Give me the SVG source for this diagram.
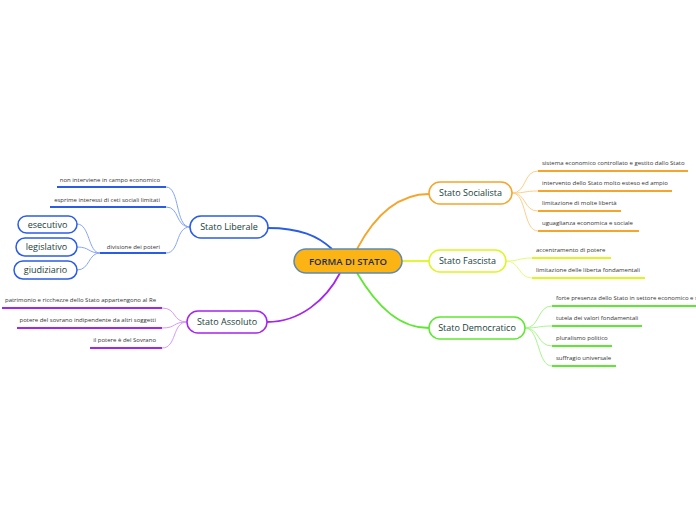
<svg xmlns="http://www.w3.org/2000/svg" width="696" height="520" viewBox="0 0 696 520">
<style>
text{font-family:"Open Sans","Noto Sans","DejaVu Sans",sans-serif}
.node text{font-size:9px;fill:#17413a;text-anchor:middle}
.leaf{font-size:6px;fill:#333}
.r{text-anchor:end}
.main{fill:none;stroke-width:1.8}
.sub{fill:none;stroke-width:1}
.ul{stroke-width:2}
.nb{fill:#fff;stroke-width:1.5}
</style>
<rect width="696" height="520" fill="#fff"/>
<g id="connectors">
<path class="main" stroke="#2b5ce6" d="M268,228 C300,228 318,236 332,249"/>
<path class="main" stroke="#a425f0" d="M267,322 C300,322 326,300 340,273"/>
<path class="main" stroke="#f5a52a" d="M357,249 C375,215 398,194 429,194"/>
<path class="main" stroke="#ddf520" d="M402,261 L429,261"/>
<path class="main" stroke="#5fe832" d="M357,273 C378,308 400,328 429,328"/>
<g stroke="#86a6f5" class="sub">
<path d="M190,227 C175,227 180,187 166,187"/>
<path d="M190,227 C175,227 180,207 166,207"/>
<path d="M190,227 C175,227 180,253 166,253"/>
<path d="M100,253 C88,253 90,224 77,224"/>
<path d="M100,253 C88,253 90,247 77,247"/>
<path d="M100,253 C88,253 90,270 77,270"/>
</g>
<g stroke="#d49bf7" class="sub">
<path d="M187,322 C172,322 177,308 162,308"/>
<path d="M187,322 C172,322 177,328 162,328"/>
<path d="M187,322 C172,322 177,348 162,348"/>
</g>
<g stroke="#fcd08a" class="sub">
<path d="M512,193 C527,193 523,171 538,171"/>
<path d="M512,193 C527,193 523,191 538,191"/>
<path d="M512,193 C527,193 523,211 538,211"/>
<path d="M512,193 C527,193 523,231 538,231"/>
</g>
<g stroke="#e6fa7a" class="sub">
<path d="M506,261 C520,261 518,258 532,258"/>
<path d="M506,261 C520,261 518,278 532,278"/>
</g>
<g stroke="#a8f58d" class="sub">
<path d="M525,328 C540,328 537,306 552,306"/>
<path d="M525,328 C540,328 537,326 552,326"/>
<path d="M525,328 C540,328 537,346 552,346"/>
<path d="M525,328 C540,328 537,366 552,366"/>
</g>
</g>
<g id="central" class="node">
<rect x="294" y="249" width="108" height="24" rx="12" fill="#fcb415" stroke="#5a8ab5" stroke-width="1.5"/>
<text x="348" y="264.5" style="fill:#1f2d4d;font-size:9.5px;font-weight:600">FORMA DI STATO</text>
</g>
<g id="liberale" class="node">
<rect class="nb" x="190" y="216" width="78" height="22" rx="11" stroke="#2b5ce6"/>
<text x="229" y="230">Stato Liberale</text>
</g>
<g id="esecutivo" class="node">
<rect class="nb" x="18" y="216" width="59" height="17" rx="8.5" stroke="#2b5ce6"/>
<text x="47.5" y="227.5">esecutivo</text>
</g>
<g id="legislativo" class="node">
<rect class="nb" x="16" y="238" width="61" height="18" rx="9" stroke="#2b5ce6"/>
<text x="46.5" y="250">legislativo</text>
</g>
<g id="giudiziario" class="node">
<rect class="nb" x="14" y="261" width="63" height="18" rx="9" stroke="#2b5ce6"/>
<text x="45.5" y="273">giudiziario</text>
</g>
<g id="lib-leaves">
<line class="ul" x1="57" y1="187" x2="166" y2="187" stroke="#2b5ce6"/>
<text class="leaf r" x="160" y="182">non interviene in campo economico</text>
<line class="ul" x1="50" y1="207" x2="166" y2="207" stroke="#2b5ce6"/>
<text class="leaf r" x="160" y="202">esprime interessi di ceti sociali limitati</text>
<line class="ul" x1="100" y1="253" x2="166" y2="253" stroke="#2b5ce6"/>
<text class="leaf r" x="160" y="249">divisione dei poteri</text>
</g>
<g id="assoluto" class="node">
<rect class="nb" x="187" y="311" width="80" height="22" rx="11" stroke="#a425f0"/>
<text x="227" y="325">Stato Assoluto</text>
</g>
<g id="ass-leaves">
<line class="ul" x1="2" y1="308" x2="162" y2="308" stroke="#a425f0"/>
<text class="leaf r" x="156" y="302">patrimonio e ricchezze dello Stato appartengono al Re</text>
<line class="ul" x1="17" y1="328" x2="162" y2="328" stroke="#a425f0"/>
<text class="leaf r" x="156" y="322">potere del sovrano indipendente da altri soggetti</text>
<line class="ul" x1="90" y1="348" x2="162" y2="348" stroke="#a425f0"/>
<text class="leaf r" x="156" y="342">il potere è del Sovrano</text>
</g>
<g id="socialista" class="node">
<rect class="nb" x="429" y="182" width="83" height="22" rx="11" stroke="#f5a52a"/>
<text x="470.5" y="196">Stato Socialista</text>
</g>
<g id="soc-leaves">
<line class="ul" x1="538" y1="171" x2="688" y2="171" stroke="#f5a52a"/>
<text class="leaf" x="542" y="165">sistema economico controllato e gestito dallo Stato</text>
<line class="ul" x1="538" y1="191" x2="672" y2="191" stroke="#f5a52a"/>
<text class="leaf" x="542" y="185">intervento dello Stato molto esteso ed ampio</text>
<line class="ul" x1="538" y1="211" x2="621" y2="211" stroke="#f5a52a"/>
<text class="leaf" x="542" y="205">limitazione di molte libertà</text>
<line class="ul" x1="538" y1="231" x2="639" y2="231" stroke="#f5a52a"/>
<text class="leaf" x="542" y="225">uguaglianza economica e sociale</text>
</g>
<g id="fascista" class="node">
<rect class="nb" x="429" y="250" width="77" height="22" rx="11" stroke="#ddf520"/>
<text x="467.5" y="264">Stato Fascista</text>
</g>
<g id="fas-leaves">
<line class="ul" x1="532" y1="258" x2="611" y2="258" stroke="#ddf520"/>
<text class="leaf" x="536" y="252">accentramento di potere</text>
<line class="ul" x1="532" y1="278" x2="645" y2="278" stroke="#ddf520"/>
<text class="leaf" x="536" y="272">limitazione delle liberta fondamentali</text>
</g>
<g id="democratico" class="node">
<rect class="nb" x="429" y="317" width="96" height="22" rx="11" stroke="#5fe832"/>
<text x="477" y="331">Stato Democratico</text>
</g>
<g id="dem-leaves">
<line class="ul" x1="552" y1="306" x2="696" y2="306" stroke="#5fe832"/>
<text class="leaf" x="556" y="300">forte presenza dello Stato in settore economico e s</text>
<line class="ul" x1="552" y1="326" x2="642" y2="326" stroke="#5fe832"/>
<text class="leaf" x="556" y="320">tutela dei valori fondamentali</text>
<line class="ul" x1="552" y1="346" x2="612" y2="346" stroke="#5fe832"/>
<text class="leaf" x="556" y="340">pluralismo politico</text>
<line class="ul" x1="552" y1="366" x2="616" y2="366" stroke="#5fe832"/>
<text class="leaf" x="556" y="360">suffragio universale</text>
</g>
</svg>
